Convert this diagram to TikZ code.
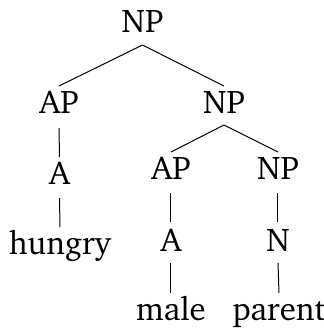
\documentclass[tikz,border=0pt]{standalone}
\usepackage[T1]{fontenc}
\usepackage{charter}
\begin{document}
\begin{tikzpicture}[x=0.5pt,y=-0.5pt,
  lab/.style={anchor=base,inner sep=0pt,font=\fontsize{16.4}{20}\selectfont},
  edge/.style={line width=0.5pt,black}]
\useasboundingbox (0,0) rectangle (323,328);
\node[lab] (r) at (142.5,32) {NP};
\node[lab] (ap1) at (59,113) {AP};
\node[lab] (np1) at (224,113) {NP};
\node[lab] (a1) at (59.5,184) {A};
\node[lab] (hungry) at (60,254) {hungry};
\node[lab] (ap2) at (171,179) {AP};
\node[lab] (np2) at (278,179) {NP};
\node[lab] (a2) at (171,251) {A};
\node[lab] (n2) at (278,251) {N};
\node[lab] (male) at (171,320) {male};
\node[lab] (parent) at (279,320) {parent};
\draw[edge] ([yshift=-6.5pt]r.base) -- ([yshift=13.5pt]ap1.base);
\draw[edge] ([yshift=-6.5pt]r.base) -- ([yshift=13.5pt]np1.base);
\draw[edge] ([yshift=-7.5pt]ap1.base) -- ([yshift=13.5pt]a1.base);
\draw[edge] ([yshift=-7pt]a1.base) -- ([yshift=13.5pt]hungry.base);
\draw[edge] ([yshift=-6pt]np1.base) -- ([yshift=13.5pt]ap2.base);
\draw[edge] ([yshift=-6pt]np1.base) -- ([yshift=13.5pt]np2.base);
\draw[edge] ([yshift=-7pt]ap2.base) -- ([yshift=14.5pt]a2.base);
\draw[edge] ([yshift=-7pt]np2.base) -- ([yshift=14.5pt]n2.base);
\draw[edge] ([yshift=-6pt]a2.base) -- ([yshift=13.5pt]male.base);
\draw[edge] ([yshift=-6pt]n2.base) -- ([yshift=13.5pt]parent.base);
\end{tikzpicture}
\end{document}
